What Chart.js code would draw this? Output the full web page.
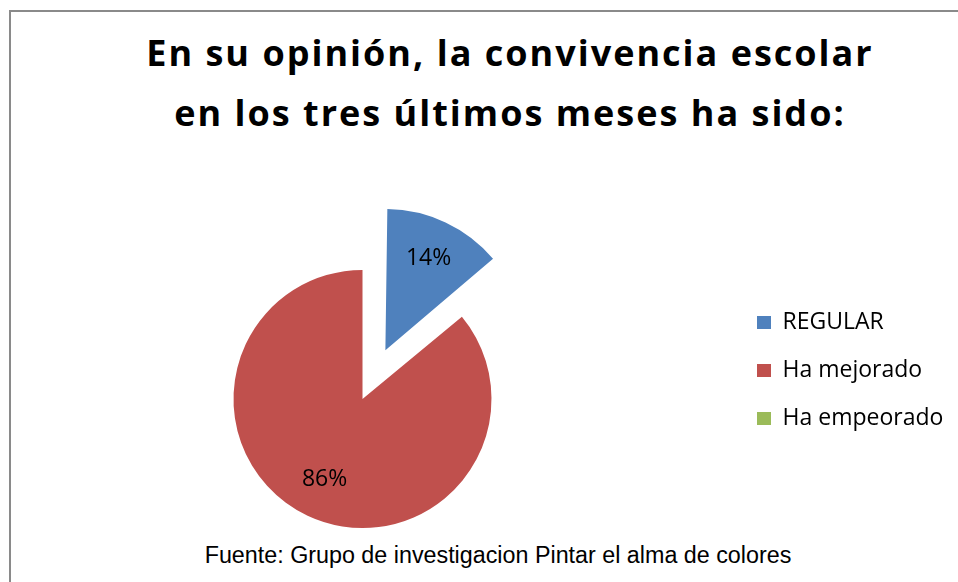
<!DOCTYPE html>
<html>
<head>
<meta charset="utf-8">
<script src="https://cdn.jsdelivr.net/npm/chart.js@4/dist/chart.umd.min.js"></script>
<style>
  html, body { margin: 0; padding: 0; background: #fff; width: 958px; height: 582px; overflow: hidden; }
  #frame { position: absolute; left: 9px; top: 10px; width: 2000px; height: 2000px; border: 2px solid #8a8a8a; box-sizing: border-box; }
  #title { position: absolute; left: 60px; top: 23px; width: 900px; text-align: center; font: bold 36px "Open Sans"; letter-spacing: 2px; line-height: 60px; color: #000; }
  #footer { position: absolute; left: 98px; top: 542px; width: 800px; text-align: center; font: 23.3px "Liberation Sans"; line-height: 26px; color: #000; }
  #chart { position: absolute; left: -7px; top: 0; }
</style>
</head>
<body>
<div id="frame"></div>
<div id="title">En su opinión, la convivencia escolar<br>en los tres últimos meses ha sido:</div>
<div id="footer">Fuente: Grupo de investigacion Pintar el alma de colores</div>
<canvas id="chart" width="970" height="582"></canvas>
<script>
(function(){
    "use strict";
    var labels = ["REGULAR", "Ha mejorado", "Ha empeorado"];
    var data = [14, 86, 0];
    var backgroundColor = ["#4f81bd", "#c0504d", "#9bbb59"];
    var explode = [215, 0, 0];

    var canvas = document.querySelector("#chart");
    var fontSize = 23;
    var legendPad = 25;
    var boxW = 14;

    // keep the pie centre fixed: chart area must end at x=739 on the canvas
    var mctx = canvas.getContext("2d");
    mctx.font = fontSize + "px 'Open Sans'";
    var textW = Math.max.apply(null, labels.map(function(t) { return mctx.measureText(t).width; }));
    var legendW = legendPad + boxW + fontSize / 2 + textW + 10;
    var padRight = canvas.width - 739 - legendW;

    // percent labels, placed along each slice's middle angle
    var pctLabels = {
        id: "pctLabels",
        afterDatasetsDraw: function(chart) {
            var ctx = chart.ctx;
            var meta = chart.getDatasetMeta(0);
            var total = data.reduce(function(a, b) { return a + b; }, 0);
            ctx.save();
            ctx.font = fontSize + "px 'Open Sans'";
            ctx.fillStyle = "#000";
            ctx.textAlign = "center";
            ctx.textBaseline = "middle";
            meta.data.forEach(function(arc, i) {
                if (!data[i]) return;
                var p = arc.getProps(["x", "y", "startAngle", "endAngle", "outerRadius", "circumference"]);
                var mid = (p.startAngle + p.endAngle) / 2;
                var off = (arc.options.offset || 0) / 4;
                var fix = 1 - Math.sin(Math.min(Math.PI, p.circumference || 0));
                var d = off * (1 + fix) + p.outerRadius * 0.69;
                ctx.fillText(Math.round(data[i] / total * 100) + "%",
                    p.x + Math.cos(mid) * d, p.y + Math.sin(mid) * d);
            });
            ctx.restore();
        }
    };

    new Chart(canvas, {
        type: "pie",
        data: {
            labels: labels,
            datasets: [{
                data: data,
                backgroundColor: backgroundColor,
                borderWidth: 0,
                offset: explode,
                hoverOffset: 0,
                clip: false
            }]
        },
        options: {
            responsive: false,
            animation: false,
            radius: 129,
            layout: { padding: { left: 0, right: padRight, top: 286, bottom: 70 } },
            plugins: {
                legend: {
                    position: "right",
                    align: "start",
                    labels: {
                        boxWidth: boxW,
                        boxHeight: 13,
                        padding: legendPad,
                        color: "#000",
                        font: { family: "'Open Sans'", size: fontSize }
                    }
                },
                tooltip: { enabled: false }
            }
        },
        plugins: [pctLabels]
    });
})();
</script>
</body>
</html>
